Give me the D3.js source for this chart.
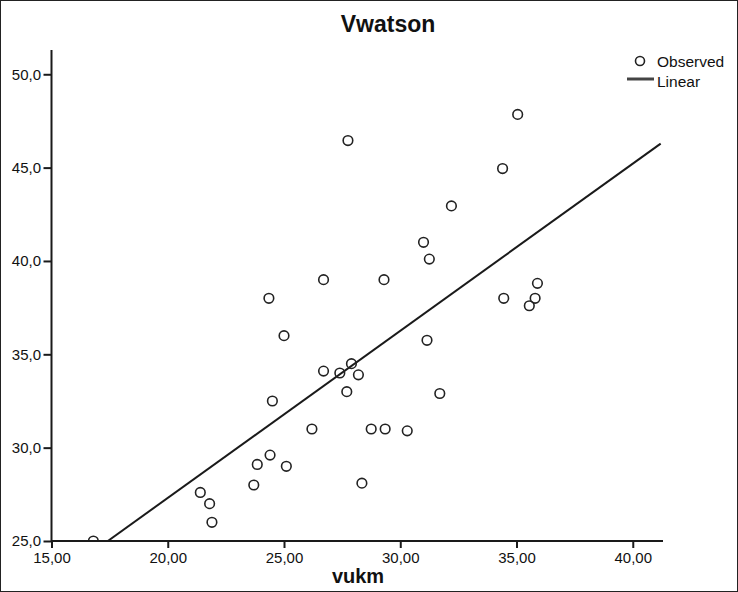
<!DOCTYPE html>
<html>
<head>
<meta charset="utf-8">
<script src="https://cdn.jsdelivr.net/npm/d3@7/dist/d3.min.js"></script>
<style>
  html, body { margin: 0; padding: 0; background: #fff; }
  svg { display: block; font-family: "Liberation Sans", Arial, sans-serif; }
</style>
</head>
<body>
<script>
// ---- data ----
const chartTitle = "Vwatson";
const xLabel = "vukm";
const vukm = [16.8, 21.4, 21.8, 21.9, 23.7, 23.85, 24.4, 24.35, 24.5, 25.0, 25.1, 26.2, 26.7, 26.7, 27.4, 27.7, 27.75, 27.9, 28.2, 28.35, 28.75, 29.3, 29.35, 30.3, 31.0, 31.15, 31.25, 31.7, 32.2, 34.4, 34.45, 35.05, 35.55, 35.8, 35.9];
const vwatson = [25.0, 27.6, 27.0, 26.0, 28.0, 29.1, 29.6, 38.0, 32.5, 36.0, 29.0, 31.0, 34.1, 39.0, 34.0, 33.0, 46.45, 34.5, 33.9, 28.1, 31.0, 39.0, 31.0, 30.9, 41.0, 35.75, 40.1, 32.9, 42.95, 44.95, 38.0, 47.85, 37.6, 38.0, 38.8];
const xTicks = [15, 20, 25, 30, 35, 40];
const yTicks = [25, 30, 35, 40, 45, 50];
const legendLabels = ["Observed", "Linear"];

const W = 738, H = 592;
const svg = d3.select("body").append("svg").attr("width", W).attr("height", H);

svg.append("rect").attr("x", 0.5).attr("y", 0.5).attr("width", W - 1).attr("height", H - 1)
  .attr("fill", "#fff").attr("stroke", "#222").attr("stroke-width", 1);

const x = d3.scaleLinear().domain([15, 41.3]).range([51.5, 663]);
const y = d3.scaleLinear().domain([25, 51.3]).range([541, 50]);

const locale = d3.formatLocale({decimal: ",", thousands: ".", grouping: [3], currency: ["", ""]});
const fx = locale.format(".2f"), fy = locale.format(".1f");

svg.append("defs").append("clipPath").attr("id", "plot")
  .append("rect").attr("x", x(15)).attr("y", y(51.3)).attr("width", x(41.3) - x(15)).attr("height", y(25) - y(51.3));

// regression line (least squares from the data)
const mx = d3.mean(vukm), my = d3.mean(vwatson);
let sxy = 0, sxx = 0;
vukm.forEach((v, i) => { sxy += (v - mx) * (vwatson[i] - my); sxx += (v - mx) * (v - mx); });
const slope = sxy / sxx, icpt = my - slope * mx;
const x0 = (25 - icpt) / slope, x1 = 41.2;

const g = svg.append("g").attr("clip-path", "url(#plot)");
g.append("line")
  .attr("x1", x(x0)).attr("y1", y(icpt + slope * x0))
  .attr("x2", x(x1)).attr("y2", y(icpt + slope * x1))
  .attr("stroke", "#1a1a1a").attr("stroke-width", 2);

g.selectAll("circle.pt").data(vukm.map((v, i) => [v, vwatson[i]])).enter().append("circle")
  .attr("class", "pt")
  .attr("cx", d => x(d[0])).attr("cy", d => y(d[1])).attr("r", 4.8)
  .attr("fill", "none").attr("stroke", "#222").attr("stroke-width", 1.6);

// axes
const xAxis = d3.axisBottom(x).tickValues(xTicks).tickFormat(fx).tickSize(7).tickSizeOuter(0);
const yAxis = d3.axisLeft(y).tickValues(yTicks).tickFormat(fy).tickSize(8).tickSizeOuter(0);

const gx = svg.append("g").attr("transform", `translate(0,${y(25)})`).call(xAxis);
const gy = svg.append("g").attr("transform", `translate(${x(15)},0)`).call(yAxis);

[gx, gy].forEach(a => {
  a.select(".domain").attr("stroke", "#1a1a1a").attr("stroke-width", 2);
  a.selectAll(".tick line").attr("stroke", "#1a1a1a").attr("stroke-width", 2);
  a.selectAll(".tick text").attr("fill", "#111").style("font-size", "15px")
    .style("font-family", "'Liberation Sans', Arial, sans-serif");
});
gx.select(".domain").attr("d", `M${x(15)},0H${x(41.3)}`);
gy.select(".domain").attr("d", `M0,${y(25)}V${y(51.3)}`);
gx.selectAll(".tick text").attr("dy", "0.85em").attr("y", 9);
gy.selectAll(".tick text").attr("x", -10.5);

// title
svg.append("text").attr("x", 388).attr("y", 32).attr("text-anchor", "middle")
  .style("font-size", "23px").style("font-weight", "bold").attr("fill", "#111").text(chartTitle);

// x axis title
svg.append("text").attr("x", 358).attr("y", 583).attr("text-anchor", "middle")
  .style("font-size", "20px").style("font-weight", "bold").attr("fill", "#111").text(xLabel);

// legend
const lg = svg.append("g");
lg.append("circle").attr("cx", 640).attr("cy", 61).attr("r", 4.5)
  .attr("fill", "none").attr("stroke", "#222").attr("stroke-width", 1.6);
lg.append("text").attr("x", 657).attr("y", 66.5).style("font-size", "15.5px").attr("fill", "#111").text(legendLabels[0]);
lg.append("line").attr("x1", 627).attr("x2", 654).attr("y1", 79).attr("y2", 79)
  .attr("stroke", "#444").attr("stroke-width", 3);
lg.append("text").attr("x", 657).attr("y", 86.5).style("font-size", "15.5px").attr("fill", "#111").text(legendLabels[1]);
</script>
</body>
</html>
